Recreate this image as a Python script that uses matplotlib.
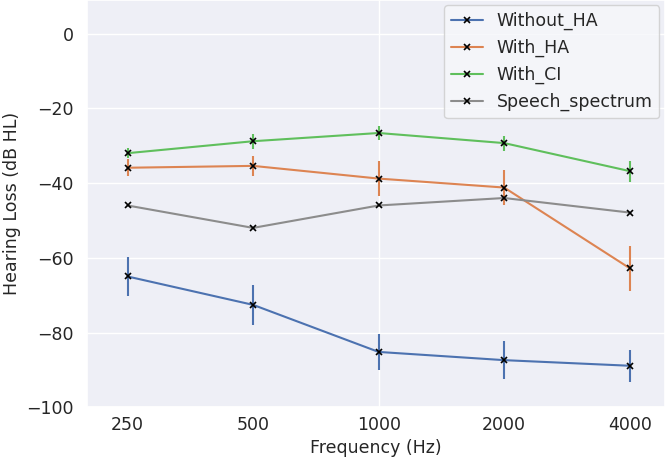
import matplotlib
matplotlib.use("Agg")
import matplotlib.pyplot as plt
import seaborn as sns
from matplotlib.lines import Line2D

sns.set_theme(style="darkgrid")
plt.rcParams['font.family'] = ['DejaVu Sans']

freqs = [250, 500, 1000, 2000, 4000]
freq_labels = ["250", "500", "1000", "2000", "4000"]

without_ha = [-65.0, -72.6, -85.2, -87.4, -88.9]
without_ha_err = [5.3, 5.4, 4.8, 5.0, 4.3]
with_ha = [-35.9, -35.4, -38.8, -41.2, -62.8]
with_ha_err = [2.3, 2.6, 4.7, 4.6, 6.0]
with_ci = [-32.0, -28.8, -26.6, -29.3, -36.8]
with_ci_err = [1.4, 2.0, 1.8, 2.0, 2.8]
speech = [-46.0, -52.0, -46.0, -44.0, -47.9]

series = [
    ("Without_HA", without_ha, without_ha_err, "#4C72B0"),
    ("With_HA", with_ha, with_ha_err, "#DD8452"),
    ("With_CI", with_ci, with_ci_err, "#5FBF5C"),
    ("Speech_spectrum", speech, None, "#8C8C8C"),
]

fig = plt.figure(figsize=(6.7, 4.67), dpi=100)
ax = fig.add_axes([0.130, 0.128, 0.862, 0.872])
ax.set_facecolor('#EEEFF6')

handles = []
for name, vals, err, col in series:
    ax.errorbar(freqs, vals, yerr=err, color=col, ecolor=col, elinewidth=1.5,
                linewidth=1.5, marker='x', markeredgecolor='black',
                markerfacecolor='black', markersize=5, markeredgewidth=1.2,
                capsize=0)
    handles.append(Line2D([], [], color=col, linewidth=1.5, marker='x',
                          markeredgecolor='black', markersize=5,
                          markeredgewidth=1.2, label=name))

ax.set_xscale('log')
ax.set_xlim(200, 4850)
ax.set_ylim(-100, 9)
ax.set_xticks([1000])
ax.set_xticklabels([freq_labels[2]])
ax.set_xticks([250, 500, 2000, 4000], minor=True)
ax.set_xticklabels([freq_labels[0], freq_labels[1], freq_labels[3], freq_labels[4]], minor=True)
ax.tick_params(axis='x', which='both', labelsize=12.5, pad=6, length=0)
ax.tick_params(axis='y', labelsize=12.5)
ax.set_yticks([0, -20, -40, -60, -80, -100])
ax.grid(False, which='minor')

ax.set_xlabel("Frequency (Hz)", fontsize=12.5)
ax.set_ylabel("Hearing Loss (dB HL)", fontsize=12.5)
ax.legend(handles=handles, loc='upper right', fontsize=12.5, frameon=True,
          facecolor='#F6F7FA', borderaxespad=0.3, handlelength=1.8)

fig.savefig("out.png", dpi=100)
